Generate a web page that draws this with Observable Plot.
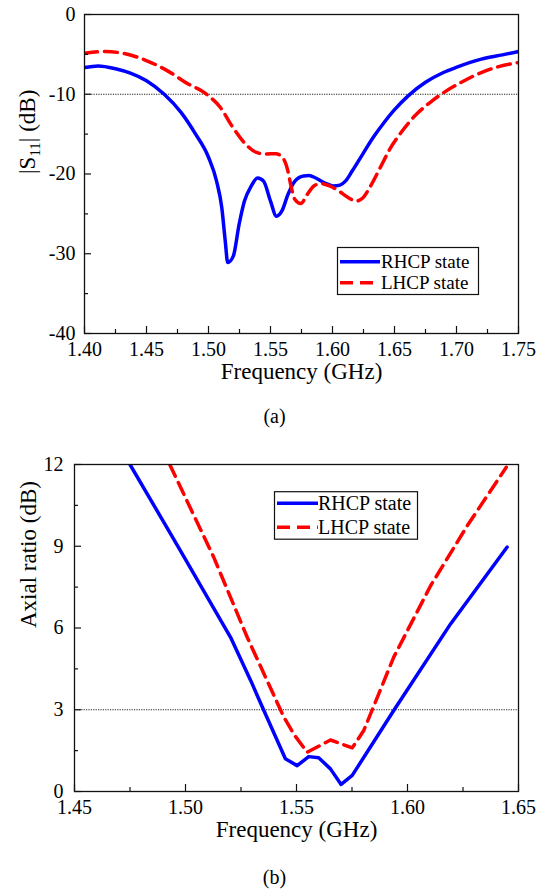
<!DOCTYPE html>
<html>
<head>
<meta charset="utf-8">
<script src="https://cdn.jsdelivr.net/npm/d3@7"></script>
<script src="https://cdn.jsdelivr.net/npm/@observablehq/plot@0.6"></script>
<style>
  body { margin: 0; background: #fff; }
  #root { position: relative; width: 546px; height: 894px; background: #fff; }
  #root svg { position: absolute; left: 0; }
  #root svg, #root svg text, #root svg tspan { font-family: "Liberation Serif", "Tinos", "Times New Roman", serif !important; }
</style>
</head>
<body>
<div id="root"></div>
<script>
// ---------- Panel (a): |S11| ----------
const freqA_R = [1.400, 1.411, 1.425, 1.437, 1.450, 1.4643, 1.478, 1.4896, 1.500, 1.5065, 1.5107, 1.5135, 1.5155, 1.520, 1.5247, 1.529, 1.5345, 1.5396, 1.5444, 1.550, 1.5548, 1.5593, 1.564, 1.5697, 1.5767, 1.581, 1.5865, 1.5935, 1.6006, 1.606, 1.6104, 1.616, 1.6244, 1.6329, 1.6413, 1.6497, 1.661, 1.675, 1.689, 1.7003, 1.720, 1.737, 1.750];
const s11_R = [-6.65, -6.45, -6.8, -7.35, -8.3, -10.0, -12.3, -15.0, -17.9, -20.9, -24.2, -28.4, -31.1, -30.3, -26.3, -23.4, -21.5, -20.5, -20.9, -23.4, -25.3, -24.6, -22.6, -20.9, -20.25, -20.2, -20.5, -21.1, -21.5, -21.4, -20.9, -19.6, -17.5, -15.4, -13.6, -12.0, -10.2, -8.5, -7.3, -6.6, -5.6, -5.06, -4.64];
const freqA_L = [1.400, 1.4166, 1.4306, 1.4503, 1.467, 1.484, 1.493, 1.500, 1.5093, 1.519, 1.529, 1.5387, 1.5458, 1.5542, 1.5598, 1.564, 1.5668, 1.5697, 1.5744, 1.5795, 1.585, 1.5907, 1.5977, 1.6048, 1.6132, 1.6188, 1.6244, 1.630, 1.6385, 1.6469, 1.6553, 1.6665, 1.6806, 1.6918, 1.7059, 1.720, 1.734, 1.750];
const s11_L = [-4.85, -4.64, -4.85, -5.8, -7.07, -8.74, -9.45, -10.2, -11.6, -14.0, -16.1, -17.3, -17.5, -17.45, -17.95, -19.6, -21.7, -23.2, -23.7, -22.6, -21.5, -21.2, -21.5, -22.1, -23.0, -23.4, -23.0, -21.7, -19.2, -16.7, -14.8, -12.7, -10.8, -9.58, -8.33, -7.28, -6.53, -6.03];
const xTicksA = [1.40, 1.45, 1.50, 1.55, 1.60, 1.65, 1.70, 1.75];
const xMinorA = [1.425, 1.475, 1.525, 1.575, 1.625, 1.675, 1.725];
const yTicksA = [-40, -30, -20, -10, 0];
const yMinorA = [-35, -25, -15, -5];
const refA = [-10];

// ---------- Panel (b): Axial ratio ----------
const freqB_R = [1.475, 1.4977, 1.5203, 1.5295, 1.5353, 1.545, 1.5503, 1.5555, 1.560, 1.5653, 1.5701, 1.5751, 1.5938, 1.6194, 1.6449];
const ar_R = [12.0, 8.84, 5.66, 4.05, 2.97, 1.2, 0.95, 1.28, 1.24, 0.83, 0.26, 0.59, 2.97, 6.15, 8.97];
const freqB_L = [1.4929, 1.5127, 1.5278, 1.5443, 1.5488, 1.5548, 1.5653, 1.5751, 1.5803, 1.5938, 1.6104, 1.6269, 1.6445];
const ar_L = [12.0, 8.6, 5.66, 2.73, 2.1, 1.44, 1.89, 1.60, 2.24, 4.93, 7.55, 9.75, 11.9];
const xTicksB = [1.45, 1.50, 1.55, 1.60, 1.65];
const xMinorB = [1.475, 1.525, 1.575, 1.625];
const yTicksB = [0, 3, 6, 9, 12];
const yMinorB = [1.5, 4.5, 7.5, 10.5];
const refB = [3];

const seriesNames = ["RHCP state", "LHCP state"];
const FONT = '"Liberation Serif", "Tinos", "Times New Roman", serif';

function rows(fs, vs) { return fs.map((f, i) => ({f, v: vs[i]})); }

function panel(o) {
  const pw = o.width - o.ml - o.mr;
  const ph = o.height - o.mt - o.mb;
  const svg = Plot.plot({
    width: o.width, height: o.height,
    marginLeft: o.ml, marginRight: o.mr, marginTop: o.mt, marginBottom: o.mb,
    style: {fontFamily: FONT, fontSize: "20px", color: "#000", background: "transparent", overflow: "visible"},
    x: {domain: o.xDomain},
    y: {domain: o.yDomain},
    marks: [
      Plot.ruleY(o.ref, {stroke: "#222", strokeWidth: 1, strokeDasharray: "1.2,1.2"}),
      Plot.line(rows(o.fR, o.vR), {x: "f", y: "v", stroke: "#0000ff", strokeWidth: 3.5, curve: o.curve, clip: true}),
      Plot.line(rows(o.fL, o.vL), {x: "f", y: "v", stroke: "#ff0000", strokeWidth: 3.5, strokeDasharray: "13,7", curve: o.curve, clip: true}),
      Plot.frame({stroke: "#111", strokeWidth: 1.3}),
      Plot.tickX(o.xMaj, {x: d => d, insetTop: ph - 7, stroke: "#111", strokeWidth: 1.2}),
      Plot.tickX(o.xMin, {x: d => d, insetTop: ph - 4, stroke: "#111", strokeWidth: 1.2}),
      Plot.tickY(o.yMaj, {y: d => d, insetRight: pw - 7, stroke: "#111", strokeWidth: 1.2}),
      Plot.tickY(o.yMin, {y: d => d, insetRight: pw - 4, stroke: "#111", strokeWidth: 1.2}),
      Plot.axisX({ticks: o.xMaj, tickSize: 0, tickPadding: 8, tickFormat: d3.format(".2f"), label: null, fontSize: 20}),
      Plot.axisY({ticks: o.yMaj, tickSize: 0, tickPadding: o.yPad, tickFormat: d => String(d), label: null, fontSize: 20}),
      Plot.text([o.xTitle], {frameAnchor: "bottom", dy: o.xTitleDy, fontSize: 23}),
      Plot.text([o.yTitle], {frameAnchor: "left", dx: o.yTitleDx, rotate: -90, fontSize: 23}),
      Plot.text([o.caption], {frameAnchor: "bottom", dy: o.capDy, dx: o.capDx, fontSize: 20})
    ]
  });
  // legend box
  const g = d3.select(svg).append("g").attr("font-family", FONT).attr("font-size", 19).attr("text-anchor", "start");
  const L = o.legend;
  g.append("rect").attr("x", L.x).attr("y", L.y).attr("width", L.w).attr("height", L.h)
    .attr("fill", "#fff").attr("stroke", "#111").attr("stroke-width", 1.2);
  const styles = [{stroke: "#0000ff", dash: null}, {stroke: "#ff0000", dash: "13,7"}];
  seriesNames.forEach((name, i) => {
    const yy = L.rowY[i];
    g.append("line").attr("x1", L.lx1).attr("x2", L.lx2).attr("y1", yy).attr("y2", yy)
      .attr("stroke", styles[i].stroke).attr("stroke-width", 3.5).attr("stroke-dasharray", styles[i].dash);
    g.append("text").attr("x", L.tx).attr("y", yy).attr("dy", "0.35em").attr("text-anchor", "start")
      .attr("font-size", L.fs).attr("fill", "#000").text(name);
  });
  svg.style.top = o.top + "px";
  return svg;
}

const root = document.getElementById("root");

const svgA = panel({
  top: 0, width: 546, height: 440, ml: 84, mr: 28, mt: 14, mb: 107,
  xDomain: [1.40, 1.75], yDomain: [-40, 0],
  fR: freqA_R, vR: s11_R, fL: freqA_L, vL: s11_L, curve: "monotone-x",
  ref: refA, xMaj: xTicksA, xMin: xMinorA, yMaj: yTicksA, yMin: yMinorA, yPad: 9,
  xTitle: "Frequency (GHz)", xTitleDy: 45, yTitle: "|S11| (dB)", yTitleDx: -57,
  caption: "(a)", capDy: 89, capDx: -27,
  legend: {x: 337.5, y: 247.5, w: 141, h: 47, rowY: [261.7, 282.7], lx1: 340, lx2: 380, tx: 381, fs: 19}
});
root.appendChild(svgA);

const svgB = panel({
  top: 440, width: 546, height: 454, ml: 74, mr: 28, mt: 24, mb: 103,
  xDomain: [1.45, 1.65], yDomain: [0, 12],
  fR: freqB_R, vR: ar_R, fL: freqB_L, vL: ar_L, curve: "linear",
  ref: refB, xMaj: xTicksB, xMin: xMinorB, yMaj: yTicksB, yMin: yMinorB, yPad: 11,
  xTitle: "Frequency (GHz)", xTitleDy: 45, yTitle: "Axial ratio (dB)", yTitleDx: -46,
  caption: "(b)", capDy: 92, capDx: -22,
  legend: {x: 274.5, y: 51.7, w: 143, h: 47.5, rowY: [63.3, 87.3], lx1: 277, lx2: 318, tx: 318, fs: 20}
});
root.appendChild(svgB);

// subscript for |S11|
d3.select(svgA).selectAll("text").filter(function () { return this.textContent === "|S11| (dB)"; })
  .each(function () {
    const t = d3.select(this);
    t.text(null);
    t.append("tspan").text("|S");
    t.append("tspan").attr("dy", 5).attr("font-size", 15).text("11");
    t.append("tspan").attr("dy", -5).text("| (dB)");
  });
</script>
</body>
</html>
